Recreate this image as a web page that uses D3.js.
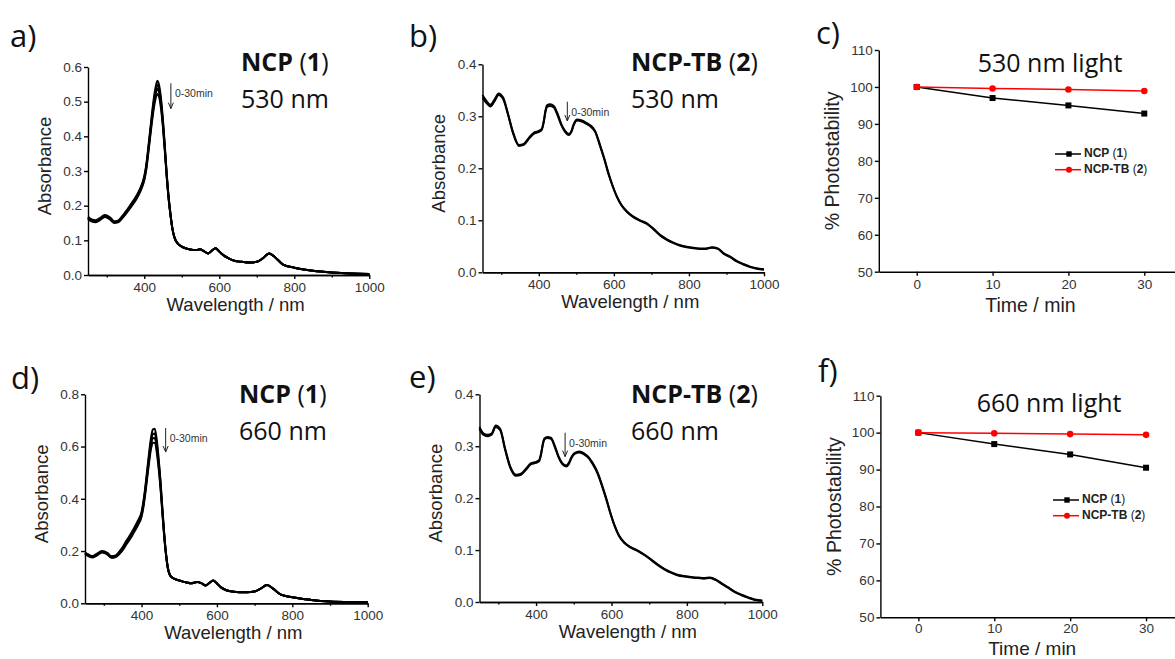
<!DOCTYPE html>
<html><head><meta charset="utf-8">
<script src="https://cdnjs.cloudflare.com/ajax/libs/d3/7.8.5/d3.min.js"></script>
<style>
body{margin:0;background:#fff;}
svg{display:block;}
.tick text{font-family:"Liberation Sans",Arial,sans-serif;font-size:13.5px;fill:#333;}
.axis path,.axis line{stroke:#000;stroke-width:1.4px;}
</style></head><body>
<svg id="chart" width="1175" height="659"></svg>
<script>
// ---------- DATA ----------
// NCP (1) spectra: Soret region per irradiation time + shared Q-band tail
const wlNcp = [250,260,270,280,295,310,320,330,340,350,360,370,380,390,400,405,410,415,420,425,430,435,440,445,450,455,460,465,470,475,
               480,490,500,510,520,530,540,548,560,570,580,590,600,610,625,640,660,680,700,715,733,750,770,800,850,900,950,1000];
// panel a (530 nm)
const a0Head  = [.168,.160,.158,.163,.173,.165,.155,.157,.168,.182,.197,.213,.230,.252,.285,.315,.360,.410,.460,.505,.540,.560,.545,.505,.445,.370,.290,.225,.175,.135];
const a10Head = [.166,.158,.156,.161,.171,.163,.153,.155,.166,.180,.195,.210,.227,.249,.281,.311,.355,.404,.452,.496,.530,.548,.535,.496,.438,.365,.287,.223,.174,.134];
const a20Head = [.164,.156,.154,.159,.169,.161,.152,.154,.164,.177,.192,.207,.224,.246,.277,.306,.350,.398,.445,.488,.520,.537,.524,.487,.431,.360,.284,.221,.173,.134];
const a30Head = [.162,.154,.152,.157,.167,.159,.150,.152,.162,.175,.189,.204,.221,.242,.273,.301,.344,.391,.437,.478,.508,.522,.512,.477,.424,.355,.281,.219,.172,.133];
const aTail   = [.110,.090,.082,.077,.074,.072,.072,.074,.068,.062,.070,.077,.068,.058,.048,.041,.038,.036,.038,.047,.062,.050,.030,.021,.012,.007,.004,.003];
// panel d (660 nm)
const d0Head  = [.194,.186,.181,.188,.200,.192,.180,.182,.196,.215,.240,.262,.287,.315,.350,.390,.445,.510,.575,.632,.665,.668,.630,.560,.475,.370,.270,.190,.135,.110];
const d10Head = [.192,.184,.179,.186,.198,.190,.178,.180,.193,.211,.235,.257,.282,.310,.344,.383,.437,.500,.563,.618,.648,.650,.614,.547,.465,.363,.266,.188,.134,.109];
const d20Head = [.190,.182,.177,.184,.196,.188,.176,.178,.190,.207,.230,.252,.277,.304,.338,.376,.429,.490,.551,.604,.632,.633,.599,.535,.456,.357,.262,.186,.133,.109];
const d30Head = [.188,.180,.175,.182,.194,.186,.174,.176,.187,.203,.226,.247,.272,.298,.331,.368,.420,.480,.539,.590,.615,.614,.583,.522,.446,.350,.258,.184,.132,.108];
const dTail   = [.100,.092,.087,.083,.080,.077,.079,.082,.076,.068,.078,.087,.076,.062,.050,.045,.042,.042,.045,.055,.070,.055,.033,.023,.013,.007,.005,.004];

// NCP-TB (2) spectra
const wlTb = [250,260,271,282,293,305,318,332,347,360,375,386,400,408,413,418,422,430,440,450,460,470,480,487,493,502,515,528,537,550,
              564,575,586,597,608,620,635,650,670,688,705,723,740,759,777,794,812,830,845,861,877,892,910,927,945,963,980,1000];
const b0  = [.341,.330,.322,.332,.344,.336,.305,.268,.245,.247,.260,.268,.272,.276,.290,.312,.321,.323,.320,.305,.285,.272,.266,.272,.285,.294,.292,.287,.283,.272,
             .243,.218,.190,.166,.146,.130,.117,.108,.100,.094,.084,.072,.064,.057,.052,.049,.047,.046,.046,.048,.046,.037,.030,.022,.016,.011,.008,.006];
const b30 = [.336,.326,.319,.329,.341,.333,.303,.266,.243,.245,.258,.266,.270,.274,.288,.309,.318,.320,.317,.302,.283,.270,.264,.270,.283,.292,.290,.285,.281,.270,
             .241,.216,.188,.165,.145,.129,.116,.107,.099,.093,.083,.071,.063,.056,.051,.048,.046,.045,.045,.047,.045,.036,.029,.021,.015,.010,.007,.005];
const e0  = [.337,.325,.322,.324,.340,.333,.295,.260,.245,.247,.258,.267,.270,.273,.285,.305,.315,.318,.316,.300,.280,.267,.263,.268,.278,.287,.290,.286,.281,.268,
             .248,.225,.200,.172,.148,.128,.114,.106,.099,.091,.082,.072,.064,.057,.052,.050,.048,.047,.046,.047,.043,.036,.028,.020,.014,.009,.005,.003];
const e30 = [.333,.322,.319,.322,.337,.331,.293,.258,.243,.245,.256,.265,.268,.271,.283,.303,.313,.316,.314,.298,.278,.265,.261,.266,.276,.285,.288,.284,.279,.266,
             .246,.223,.198,.171,.147,.127,.113,.105,.098,.090,.081,.071,.063,.056,.051,.049,.047,.046,.045,.046,.042,.035,.027,.019,.013,.008,.004,.002];

// photostability
const times = [0,10,20,30];
const ncp530 = [100,97.0,95.0,92.8];
const tb530  = [100,99.6,99.3,98.9];
const ncp660 = [100,96.9,94.1,90.5];
const tb660  = [100,99.8,99.6,99.4];

const wlTicks = [400,600,800,1000];
const wlMinor = [300,500,700,900];
const timeTicks = [0,10,20,30];
const pctTicks = [50,60,70,80,90,100,110];

// ---------- DRAW ----------
const svg = d3.select("#chart");
const TXT = "'Open Sans', sans-serif";
const AX = "'Liberation Sans', Arial, sans-serif";

function letter(t, x, y){
  svg.append("text").attr("x",x).attr("y",y).attr("font-family",TXT).attr("font-size",31).attr("fill","#111").text(t);
}
function nameTitle(name, num, sub, x, y1, y2){
  const t = svg.append("text").attr("x",x).attr("y",y1).attr("font-family",TXT).attr("font-size",25).attr("fill","#111");
  t.append("tspan").attr("font-weight","bold").text(name);
  t.append("tspan").text(" (");
  t.append("tspan").attr("font-weight","bold").text(num);
  t.append("tspan").text(")");
  if(sub) svg.append("text").attr("x",x).attr("y",y2).attr("font-family",TXT).attr("font-size",25).attr("fill","#111").text(sub);
}

function spectrum(p){
  const x = d3.scaleLinear().domain([250,1000]).range(p.xr);
  const y = d3.scaleLinear().domain([0,p.ymax]).range(p.yr);
  const g = svg.append("g");
  const line = d3.line().x(d=>x(d[0])).y(d=>y(d[1])).curve(d3.curveMonotoneX);
  p.curves.forEach(c=>{
    g.append("path").datum(p.wl.map((w,i)=>[w,c[i]]))
     .attr("d",line).attr("fill","none").attr("stroke","#000").attr("stroke-width",2);
  });
  // axes
  g.append("g").attr("class","axis").attr("transform",`translate(0,${p.yr[0]})`)
   .call(d3.axisBottom(x).tickValues(wlMinor).tickSize(2.5).tickSizeOuter(0).tickFormat(""));
  g.append("g").attr("class","axis").attr("transform",`translate(0,${p.yr[0]})`)
   .call(d3.axisBottom(x).tickValues(wlTicks).tickSize(4).tickSizeOuter(0).tickPadding(3).tickFormat(d3.format("d")));
  g.append("g").attr("class","axis").attr("transform",`translate(${p.xr[0]},0)`)
   .call(d3.axisLeft(y).tickValues(p.yticks).tickFormat(d3.format(".1f")).tickSize(4).tickSizeOuter(0).tickPadding(2));
  // titles
  svg.append("text").attr("transform",`translate(${p.xr[0]-42},${(p.yr[0]+p.yr[1])/2-5}) rotate(-90)`)
    .attr("text-anchor","middle").attr("dominant-baseline","middle")
    .attr("font-family",AX).attr("font-size",18.5).attr("fill","#222").text("Absorbance");
  svg.append("text").attr("x",(p.xr[0]+p.xr[1])/2+7).attr("y",p.yr[0]+36)
    .attr("text-anchor","middle").attr("font-family",AX).attr("font-size",18.5).attr("fill","#222").text("Wavelength / nm");
  // arrow annotation
  const ax = x(p.arrow[0]), ay1 = y(p.arrow[1]), ay2 = y(p.arrow[2]);
  g.append("line").attr("x1",ax).attr("x2",ax).attr("y1",ay1).attr("y2",ay2).attr("stroke","#222").attr("stroke-width",1);
  g.append("path").attr("d",`M${ax-2.5},${ay2-6}L${ax},${ay2}L${ax+2.5},${ay2-6}`).attr("fill","none").attr("stroke","#222").attr("stroke-width",1);
  g.append("text").attr("x",ax+4).attr("y",ay1+11).attr("dominant-baseline","middle")
    .attr("font-family",AX).attr("font-size",10.5).attr("fill","#333").text("0-30min");
}

function stability(p){
  const x = d3.scaleLinear().domain([-5,35]).range(p.xr);
  const y = d3.scaleLinear().domain([50,110]).range(p.yr);
  const g = svg.append("g");
  g.append("g").attr("class","axis").attr("transform",`translate(0,${p.yr[0]})`)
   .call(d3.axisBottom(x).tickValues(timeTicks).tickSize(4).tickSizeOuter(0).tickPadding(p.tpad));
  g.append("g").attr("class","axis").attr("transform",`translate(${p.xr[0]},0)`)
   .call(d3.axisLeft(y).tickValues(pctTicks).tickSize(4).tickSizeOuter(0).tickPadding(2));
  const line = d3.line().x((d,i)=>x(times[i])).y(d=>y(d));
  const series = [{v:p.ncp,c:"#000",m:"sq"},{v:p.tb,c:"#f00",m:"ci"}];
  series.forEach(s=>{
    g.append("path").datum(s.v).attr("d",line).attr("fill","none").attr("stroke",s.c).attr("stroke-width",1.5);
    s.v.forEach((v,i)=>{
      if(s.m==="sq") g.append("rect").attr("x",x(times[i])-3).attr("y",y(v)-3).attr("width",6).attr("height",6).attr("fill",s.c);
      else g.append("circle").attr("cx",x(times[i])).attr("cy",y(v)).attr("r",3.3).attr("fill",s.c);
    });
  });
  // legend
  const names = [["NCP","1"],["NCP-TB","2"]];
  series.forEach((s,i)=>{
    const ly = p.leg[1] + i*15.7;
    g.append("line").attr("x1",p.leg[0]).attr("x2",p.leg[0]+26).attr("y1",ly).attr("y2",ly).attr("stroke",s.c).attr("stroke-width",1.5);
    const mx = p.leg[0]+14;
    if(s.m==="sq") g.append("rect").attr("x",mx-2.7).attr("y",ly-2.7).attr("width",5.4).attr("height",5.4).attr("fill",s.c);
    else g.append("circle").attr("cx",mx).attr("cy",ly).attr("r",3).attr("fill",s.c);
    const t = g.append("text").attr("x",p.leg[0]+29).attr("y",ly).attr("dominant-baseline","middle")
      .attr("font-family",AX).attr("font-size",12).attr("fill","#222");
    t.append("tspan").attr("font-weight","bold").text(names[i][0]+" ");
    t.append("tspan").text("(");
    t.append("tspan").attr("font-weight","bold").text(names[i][1]);
    t.append("tspan").text(")");
  });
  svg.append("text").attr("transform",`translate(${p.xr[0]-45},${(p.yr[0]+p.yr[1])/2}) rotate(-90)`)
    .attr("text-anchor","middle").attr("dominant-baseline","middle")
    .attr("font-family",AX).attr("font-size",19.5).attr("fill","#222").text("% Photostability");
  svg.append("text").attr("x",x(15)).attr("y",p.titleY)
    .attr("text-anchor","middle").attr("font-family",AX).attr("font-size",p.tsize).attr("fill","#222").text("Time / min");
  svg.append("text").attr("x",p.title[0]).attr("y",p.title[1]).attr("font-family",TXT).attr("font-size",25).attr("fill","#111").text(p.title[2]);
}

const join = (h,t)=>h.concat(t);

spectrum({wl:wlNcp, curves:[join(a0Head,aTail),join(a10Head,aTail),join(a20Head,aTail),join(a30Head,aTail)],
  xr:[88,369.3], yr:[275,67], ymax:0.6, yticks:[0,.1,.2,.3,.4,.5,.6], arrow:[471,0.553,0.48]});
spectrum({wl:wlTb, curves:[b0,b30], xr:[482.5,764], yr:[272.3,64.3], ymax:0.4, yticks:[0,.1,.2,.3,.4], arrow:[476,0.328,0.291]});
spectrum({wl:wlNcp, curves:[join(d0Head,dTail),join(d10Head,dTail),join(d20Head,dTail),join(d30Head,dTail)],
  xr:[85,367.7], yr:[603.3,394.3], ymax:0.8, yticks:[0,.2,.4,.6,.8], arrow:[464,0.671,0.579]});
spectrum({wl:wlTb, curves:[e0,e30], xr:[479.5,762.3], yr:[602,394.3], ymax:0.4, yticks:[0,.1,.2,.3,.4], arrow:[477,0.326,0.28]});

stability({xr:[878.8,1182.2], yr:[271.7,50], ncp:ncp530, tb:tb530, leg:[1055,154], titleY:312, tpad:4, tsize:19.5, title:[977.7,71.5,"530 nm light"]});
stability({xr:[880.4,1184], yr:[617.3,395.7], ncp:ncp660, tb:tb660, leg:[1053,500], titleY:655, tpad:2, tsize:19, title:[976.7,411.5,"660 nm light"]});

letter("a)",10,47); letter("b)",409,47); letter("c)",816,44);
letter("d)",11,389); letter("e)",409,388); letter("f)",818,382);

nameTitle("NCP","1","530 nm",241,71,108);
nameTitle("NCP-TB","2","530 nm",631,71,108);
nameTitle("NCP","1","660 nm",239,403,440);
nameTitle("NCP-TB","2","660 nm",631,403,440);
</script>
</body></html>
